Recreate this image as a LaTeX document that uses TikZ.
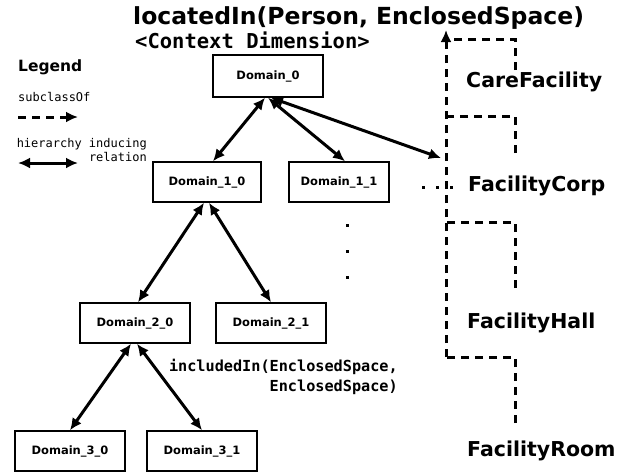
\documentclass[tikz,border=0pt]{standalone}
\usepackage{fontspec}
\setmainfont{DejaVu Sans}
\setmonofont{DejaVu Sans Mono}
\usetikzlibrary{arrows.meta}

\begin{document}
\begin{tikzpicture}[x=1pt,y=-1pt]
		\tikzset{dombox/.style = {draw, line width=1.5pt, minimum width=110pt, minimum height=40pt, font=\fontsize{11.5}{13}\selectfont\bfseries}}
		\tikzset{hier/.style = {{Latex[length=12pt,width=11pt]}-{Latex[length=12pt,width=11pt]}, line width=3pt}}
		\tikzset{subcls/.style = {line width=3pt, dash pattern=on 8pt off 6pt}}
		\tikzset{concept/.style = {anchor=west, inner sep=0pt, font=\fontsize{20.5}{24}\selectfont\bfseries}}
		\tikzset{legtext/.style = {inner sep=0pt, font=\fontsize{12}{14.5}\selectfont\ttfamily}}
		
		\useasboundingbox (0,0) rectangle (628,472);
		
		\node[anchor=west, inner sep=0pt, font=\fontsize{23.5}{26}\selectfont\bfseries] (locin) at (133,18) {locatedIn(Person, EnclosedSpace)};
		\node[anchor=west, inner sep=0pt, font=\fontsize{20.5}{24}\selectfont\ttfamily\bfseries] (ctx) at (135,40) {<Context Dimension>};
		
		% legend
		\node[anchor=west, inner sep=0pt, font=\fontsize{15.5}{18}\selectfont\bfseries] (leg) at (18,67) {Legend};
		\node[legtext, anchor=west] (lsub) at (18,97) {subclassOf};
		\node[legtext, anchor=east, align=right] (lhier) at (147,150) {hierarchy inducing\\relation};
		\coordinate (ls1) at (18,117);
		\coordinate (ls2) at (78,117);
		\coordinate (lh1) at (18,163);
		\coordinate (lh2) at (78,163);
		\draw[subcls, -{Latex[length=12pt,width=11pt]}] (ls1) -- (ls2);
		\draw[hier] (lh1) -- (lh2);
		
		% domains
		\node[dombox, minimum height=42pt] (d0)  at (268, 76) {Domain\_0};
		\node[dombox, minimum width=108pt] (d10) at (207,182) {Domain\_1\_0};
		\node[dombox, minimum width=100pt] (d11) at (339,182) {Domain\_1\_1};
		\node[dombox]                      (d20) at (135,323) {Domain\_2\_0};
		\node[dombox]                      (d21) at (271,323) {Domain\_2\_1};
		\node[dombox]                      (d30) at ( 70,451) {Domain\_3\_0};
		\node[dombox]                      (d31) at (202,451) {Domain\_3\_1};
		\coordinate (corpin) at (441,158);
		
		\draw[hier] ([xshift=-3pt]d0.south) -- ([xshift=6pt]d10.north);
		\draw[hier] (d0.south) -- ([xshift=6pt]d11.north);
		\draw[hier] ([xshift=3pt]d0.south) -- (corpin);
		\draw[hier] ([xshift=-3pt]d10.south) -- ([xshift=3pt]d20.north);
		\draw[hier] ([xshift=2pt]d10.south) -- (d21.north);
		\draw[hier] ([xshift=-4pt]d20.south) -- (d30.north);
		\draw[hier] ([xshift=2pt]d20.south) -- (d31.north);
		
		\node[anchor=east, align=right, inner sep=0pt, font=\fontsize{15.2}{20}\selectfont\ttfamily\bfseries] (incl) at (398,377) {includedIn(EnclosedSpace,\\EnclosedSpace)};
		
		\foreach \y in {225,251,277} \fill (345.5,\y-1.5) rectangle ++(3.5,3.5);
		\foreach \x in {423,437,451} \fill (\x-1.5,185.5) rectangle ++(3.5,3.5);
		
		% concepts
		\node[concept] (care) at (466, 82) {CareFacility};
		\node[concept] (corp) at (468,186) {FacilityCorp};
		\node[concept] (hall) at (467,323) {FacilityHall};
		\node[concept] (room) at (467,451) {FacilityRoom};
		
		\coordinate (tip) at (446, 30);
		\coordinate (s1)  at (446, 39);
		\coordinate (s2)  at (446,116);
		\coordinate (s3)  at (446,222);
		\coordinate (s4)  at (446,357);
		\coordinate (c1)  at (515, 70);
		\coordinate (c2)  at (515,153);
		\coordinate (c3)  at (515,288);
		\coordinate (c4)  at (515,423);
		
		\draw[subcls, -{Latex[length=12pt,width=11pt]}] (s4) -- (tip);
		\draw[subcls] (c1) |- (s1);
		\draw[subcls] (c2) |- (s2);
		\draw[subcls] (c3) |- (s3);
		\draw[subcls] (c4) |- (s4);
		\end{tikzpicture}
\end{document}
